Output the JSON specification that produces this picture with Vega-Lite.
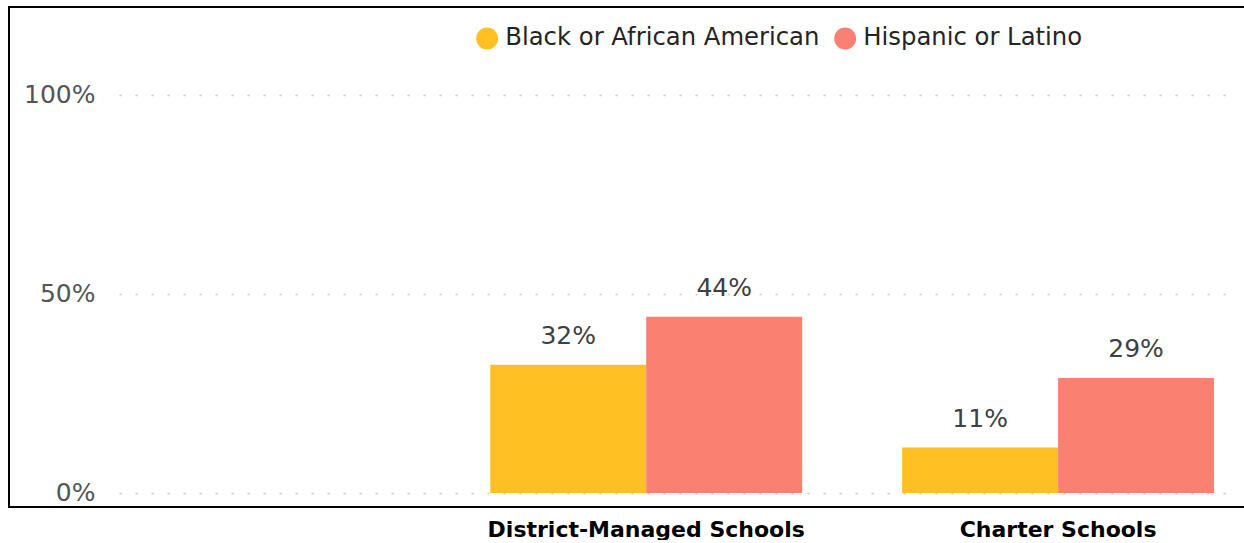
{
  "$schema": "https://vega.github.io/schema/vega-lite/v6.json",
  "width": 1238,
  "height": 500,
  "padding": {"left": 9, "top": 7, "right": 0, "bottom": 0},
  "autosize": {"type": "pad"},
  "background": "white",
  "config": {
    "view": {"stroke": "#000000", "strokeWidth": 2},
    "font": "DejaVu Sans"
  },
  "data": {
    "values": [
      {"school": "District-Managed Schools", "race": "Black or African American", "value": 0.322},
      {"school": "District-Managed Schools", "race": "Hispanic or Latino", "value": 0.443},
      {"school": "Charter Schools", "race": "Black or African American", "value": 0.114},
      {"school": "Charter Schools", "race": "Hispanic or Latino", "value": 0.289}
    ]
  },
  "encoding": {
    "x": {
      "field": "school",
      "type": "nominal",
      "sort": ["District-Managed Schools", "Charter Schools"],
      "scale": {"range": [110, 1230], "paddingInner": 0.2427, "paddingOuter": 0.481, "align": 0.937},
      "axis": {
        "title": null, "domain": false, "ticks": false, "labelAngle": 0, "labelLimit": 0,
        "labelFont": "DejaVu Sans", "labelFontWeight": "bold", "labelFontSize": 22,
        "labelColor": "#000000", "labelPadding": 12
      }
    },
    "xOffset": {
      "field": "race",
      "type": "nominal",
      "sort": ["Black or African American", "Hispanic or Latino"],
      "scale": {"paddingInner": 0, "paddingOuter": 0}
    },
    "y": {
      "field": "value",
      "type": "quantitative",
      "scale": {"domain": [-0.0352, 1.2211], "nice": false, "zero": false},
      "axis": {
        "title": null, "values": [0, 0.5, 1], "format": ".0%",
        "domain": false, "ticks": false, "offset": -91, "labelPadding": 5,
        "labelFontSize": 25, "labelColor": "#555555", "labelFont": "DejaVu Sans",
        "grid": true, "gridColor": "#c4c4c4", "gridDash": [2, 14], "gridWidth": 1.5
      }
    }
  },
  "layer": [
    {
      "mark": {"type": "bar"},
      "encoding": {
        "color": {
          "field": "race",
          "type": "nominal",
          "sort": ["Black or African American", "Hispanic or Latino"],
          "scale": {"range": ["#FEC022", "#FA8072"]},
          "legend": {
            "title": null, "orient": "none", "legendX": 466, "legendY": 19,
            "direction": "horizontal", "symbolType": "circle", "symbolSize": 480,
            "symbolOpacity": 1, "symbolStrokeWidth": 0, "labelLimit": 0,
            "labelFontSize": 24.3, "labelColor": "#252423", "labelFont": "DejaVu Sans",
            "labelOffset": 6, "columnPadding": 13, "padding": 0
          }
        }
      }
    },
    {
      "mark": {"type": "text", "dy": -21, "baseline": "alphabetic", "fontSize": 25, "color": "#404040", "font": "DejaVu Sans"},
      "encoding": {
        "text": {"field": "value", "type": "quantitative", "format": ".0%"}
      }
    }
  ]
}
